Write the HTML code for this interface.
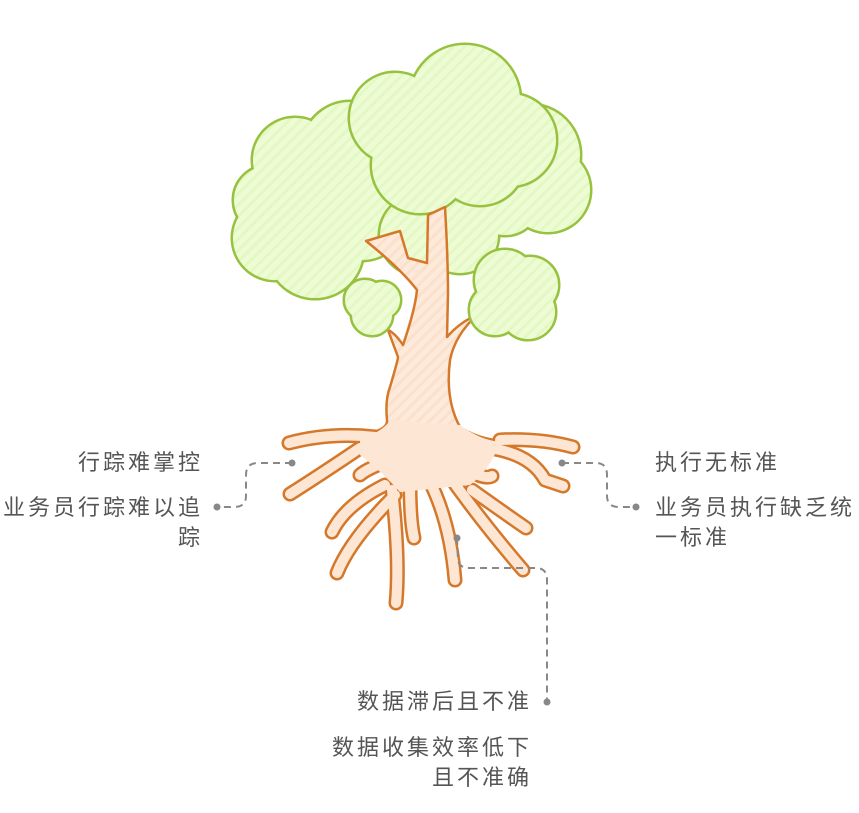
<!DOCTYPE html>
<html><head><meta charset="utf-8"><style>
html,body{margin:0;padding:0;background:#fff}
body{width:859px;height:813px;position:relative;overflow:hidden;font-family:"Liberation Sans","Noto Sans CJK SC",sans-serif;color:#555;font-size:22px;letter-spacing:3px}
.t{position:absolute;line-height:30px;white-space:nowrap}
.r{text-align:right}
</style></head><body>
<svg width="859" height="813" style="position:absolute;left:0;top:0">
<defs>
<pattern id="g" width="8" height="8" patternUnits="userSpaceOnUse" patternTransform="rotate(45)"><rect width="8" height="8" fill="#eefcd6"/><rect width="3" height="8" fill="#e4f8c4"/></pattern>
<pattern id="o" width="8" height="8" patternUnits="userSpaceOnUse" patternTransform="rotate(45)"><rect width="8" height="8" fill="#fdeadb"/><rect width="3" height="8" fill="#fbe0cc"/></pattern>
</defs>
<g>
<g stroke="#97c23f" stroke-width="5" fill="#97c23f">
<circle cx="295" cy="160" r="42"/><circle cx="275" cy="238" r="42"/><circle cx="315" cy="250" r="48"/><circle cx="350" cy="150" r="48"/><circle cx="362" cy="215" r="45"/><circle cx="268" cy="200" r="34"/><circle cx="320" cy="195" r="45"/></g>
<g fill="url(#g)"><circle cx="295" cy="160" r="42"/><circle cx="275" cy="238" r="42"/><circle cx="315" cy="250" r="48"/><circle cx="350" cy="150" r="48"/><circle cx="362" cy="215" r="45"/><circle cx="268" cy="200" r="34"/><circle cx="320" cy="195" r="45"/></g>
</g>
<g>
<g stroke="#97c23f" stroke-width="5" fill="#97c23f"><circle cx="530" cy="155" r="50"/><circle cx="548" cy="190" r="42"/><circle cx="505" cy="200" r="35"/><circle cx="420" cy="235" r="40"/><circle cx="460" cy="235" r="38"/></g>
<g fill="url(#g)"><circle cx="530" cy="155" r="50"/><circle cx="548" cy="190" r="42"/><circle cx="505" cy="200" r="35"/><circle cx="420" cy="235" r="40"/><circle cx="460" cy="235" r="38"/></g>
</g>
<g>
<g stroke="#97c23f" stroke-width="5" fill="#97c23f"><circle cx="395" cy="118" r="45"/><circle cx="465" cy="100" r="55"/><circle cx="510" cy="140" r="46"/><circle cx="420" cy="165" r="48"/><circle cx="480" cy="160" r="45"/></g>
<g fill="url(#g)"><circle cx="395" cy="118" r="45"/><circle cx="465" cy="100" r="55"/><circle cx="510" cy="140" r="46"/><circle cx="420" cy="165" r="48"/><circle cx="480" cy="160" r="45"/></g>
</g>
<path d="M366 241 L400 231 L408 258 L427 263 L428 215 L445 207 Q448 260 448 293 L447 337 Q460 322 477 315 Q455 335 450 360 Q445 400 460 427 Q475 437 495 440 L480 480 L390 480 Q375 445 373 432 Q388 428 387 420 Q385 400 390 387 Q398 360 398 357 L388 330 Q395 333 403 345 Q415 310 417 290 Q400 268 366 241 Z" fill="url(#o)" stroke="#d5782a" stroke-width="2.5" stroke-linejoin="round"/>
<g stroke-linecap="round" stroke-linejoin="round" fill="none">
<g stroke="#d5782a" stroke-width="15">
<path d="M375 437 Q330 432 289 443"/><path d="M360 448 Q320 475 290 494"/><path d="M385 462 Q365 470 360 475"/><path d="M385 485 Q345 505 332 532"/><path d="M395 495 Q350 540 337 573"/><path d="M392 490 Q400 560 396 603"/><path d="M410 483 Q410 520 414 538"/><path d="M428 478 Q450 520 455 580"/><path d="M445 470 Q480 520 523 570"/><path d="M468 470 Q485 480 492 476"/><path d="M472 490 Q500 510 526 528"/><path d="M482 447 Q530 452 545 480 L563 486"/><path d="M500 440 Q540 438 573 447"/>
</g>
<g stroke="#fde6d4" stroke-width="10">
<path d="M375 437 Q330 432 289 443"/><path d="M360 448 Q320 475 290 494"/><path d="M385 462 Q365 470 360 475"/><path d="M385 485 Q345 505 332 532"/><path d="M395 495 Q350 540 337 573"/><path d="M392 490 Q400 560 396 603"/><path d="M410 483 Q410 520 414 538"/><path d="M428 478 Q450 520 455 580"/><path d="M445 470 Q480 520 523 570"/><path d="M468 470 Q485 480 492 476"/><path d="M472 490 Q500 510 526 528"/><path d="M482 447 Q530 452 545 480 L563 486"/><path d="M500 440 Q540 438 573 447"/>
</g>
</g>
<path d="M360 440 Q385 430 390 420 L460 425 Q480 440 500 442 Q490 470 470 485 L400 492 Q380 470 360 455 Z" fill="#fde6d4"/>
<g>
<g stroke="#97c23f" stroke-width="5" fill="#97c23f"><circle cx="365" cy="300" r="20"/><circle cx="382" cy="300" r="18"/><circle cx="372" cy="315" r="20"/></g>
<g fill="url(#g)"><circle cx="365" cy="300" r="20"/><circle cx="382" cy="300" r="18"/><circle cx="372" cy="315" r="20"/></g>
</g>
<g>
<g stroke="#97c23f" stroke-width="5" fill="#97c23f"><circle cx="505" cy="280" r="30"/><circle cx="530" cy="285" r="28"/><circle cx="495" cy="310" r="25"/><circle cx="528" cy="312" r="27"/></g>
<g fill="url(#g)"><circle cx="505" cy="280" r="30"/><circle cx="530" cy="285" r="28"/><circle cx="495" cy="310" r="25"/><circle cx="528" cy="312" r="27"/></g>
</g>
<g fill="none" stroke="#888" stroke-width="2" stroke-dasharray="7 5">
<path d="M292 463 L258 463 Q246 463 246 475 L246 496 Q246 507 234 507 L217 507"/>
<path d="M562 463 L596 463 Q607 463 607 475 L607 496 Q607 507 619 507 L636 507"/>
<path d="M457 538 L458 560 Q459 568 470 568 L536 568 Q547 568 547 580 L547 702"/>
</g>
<g fill="#888"><circle cx="292" cy="463" r="3.5"/><circle cx="217" cy="507" r="3.5"/><circle cx="562" cy="463" r="3.5"/><circle cx="636" cy="507" r="3.5"/><circle cx="457" cy="538" r="3.5"/><circle cx="547" cy="702" r="3.5"/></g>
</svg>
<div class="t r" style="right:656px;top:448px">行踪难掌控</div>
<div class="t r" style="right:656px;top:493px">业务员行踪难以追<br>踪</div>
<div class="t" style="left:655px;top:448px">执行无标准</div>
<div class="t" style="left:655px;top:493px">业务员执行缺乏统<br>一标准</div>
<div class="t r" style="right:327px;top:687px">数据滞后且不准</div>
<div class="t r" style="right:327px;top:733px">数据收集效率低下<br>且不准确</div>
</body></html>
